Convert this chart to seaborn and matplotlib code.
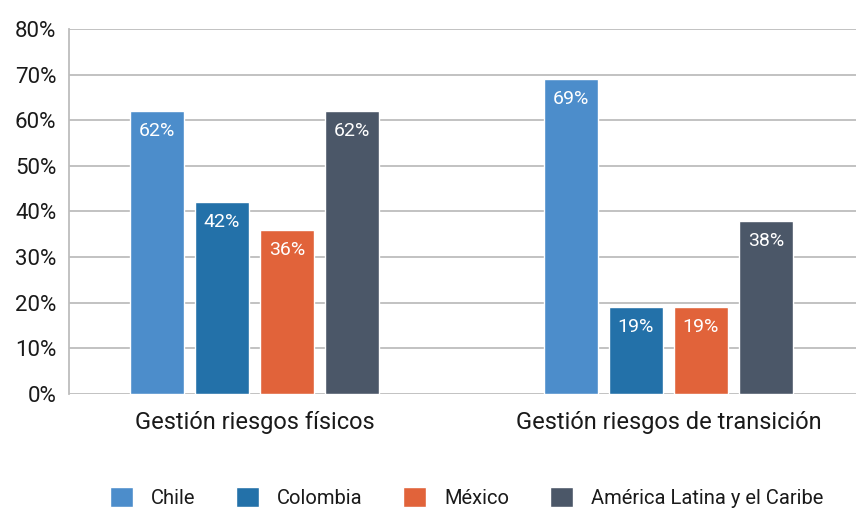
import pandas as pd
import matplotlib
matplotlib.use('Agg')
import matplotlib.pyplot as plt
import seaborn as sns

# Data
categories = ['Gestión riesgos físicos', 'Gestión riesgos de transición']
series = ['Chile', 'Colombia', 'México', 'América Latina y el Caribe']
chile = [62, 69]
colombia = [42, 19]
mexico = [36, 19]
alc = [62, 38]
yticks = [0, 10, 20, 30, 40, 50, 60, 70, 80]

colors = ['#4C8DCB', '#2371A9', '#E1633A', '#4B5768']

rows = []
for name, vals in zip(series, [chile, colombia, mexico, alc]):
    for cat, v in zip(categories, vals):
        rows.append({'categoria': cat, 'serie': name, 'valor': v})
df = pd.DataFrame(rows)

sns.set_style('white')
plt.rcParams['font.family'] = ['Roboto', 'DejaVu Sans']

fig = plt.figure(figsize=(8.56, 5.13), dpi=100)
ax = fig.add_axes([0.0806, 0.232, 0.9194, 0.7115])

sns.barplot(data=df, x='categoria', y='valor', hue='serie', order=categories,
            hue_order=series, palette=colors, width=0.628, gap=0.18,
            saturation=1, ax=ax, legend=True)

# labels inside bars
for container in ax.containers:
    for bar in container:
        h = bar.get_height()
        ax.annotate(f'{h:.0f}%', (bar.get_x() + bar.get_width() / 2, h),
                    xytext=(0, -8), textcoords='offset points',
                    ha='center', va='top', color='white', fontsize=14)

ax.set_ylim(0, 80)
ax.set_xlim(-0.448, 1.453)
ax.set_yticks(yticks)
ax.set_yticklabels([f'{t}%' for t in yticks], fontsize=16, color='#1a1a1a')
ax.tick_params(axis='both', length=0)
ax.tick_params(axis='y', pad=9)
ax.tick_params(axis='x', labelsize=17, pad=12, labelcolor='#1a1a1a')
ax.yaxis.grid(True, color='#bdbdbd', linewidth=1.3)
ax.set_axisbelow(True)
ax.set_xlabel('')
ax.set_ylabel('')
for s in ['top', 'right', 'bottom']:
    ax.spines[s].set_visible(False)
ax.spines['left'].set_color('#bdbdbd')
ax.spines['left'].set_linewidth(1.3)

handles, labels = ax.get_legend_handles_labels()
ax.get_legend().remove()
fig.legend(handles, labels, loc='center', bbox_to_anchor=(0.545, 0.03),
           ncol=4, frameon=False, fontsize=14.5, handlelength=1.15,
           handleheight=1.15, columnspacing=2.0, handletextpad=0.9,
           labelcolor='#1a1a1a')

fig.savefig('out.png', dpi=100)
plt.close(fig)
